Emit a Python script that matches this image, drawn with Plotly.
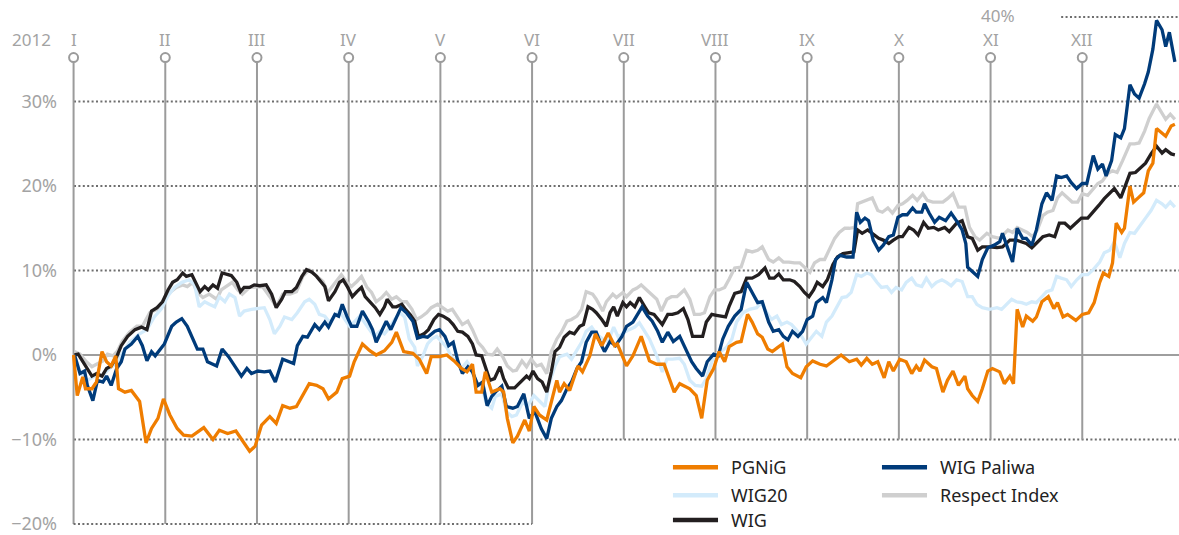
import plotly.graph_objects as go

# ---- data: x in months since 1 Jan 2012 (0 = I, 11 = XII, 12 = year end), y in % change ----
MONTHS = ["I", "II", "III", "IV", "V", "VI", "VII", "VIII", "IX", "X", "XI", "XII"]
YEAR = "2012"
Y_TICKS = [-20, -10, 0, 10, 20, 30]
Y_TICKTEXT = ["\u221220%", "\u221210%", "0%", "10%", "20%", "30%"]

PGNIG = [(0.00,0),(0.04,-4.8),(0.10,-2.6),(0.13,-4.0),(0.20,-4.0),(0.25,-3.2),(0.31,0.4),(0.36,-0.8),(0.41,-1.3),(0.46,-0.1),(0.49,-4.0),(0.56,-4.4),(0.63,-4.2),(0.72,-5.5),(0.79,-10.4),(0.85,-8.7),(0.92,-7.5),(0.98,-5.2),(1.05,-7.1),(1.13,-8.7),(1.20,-9.5),(1.29,-9.6),(1.42,-8.6),(1.52,-10.0),(1.59,-8.9),(1.68,-9.3),(1.77,-9.0),(1.85,-10.2),(1.92,-11.4),(1.98,-10.8),(2.05,-8.3),(2.14,-7.3),(2.21,-8.1),(2.28,-6.0),(2.36,-6.3),(2.43,-6.1),(2.50,-4.8),(2.57,-3.4),(2.65,-3.6),(2.72,-4.0),(2.78,-5.2),(2.87,-4.4),(2.93,-2.8),(3.01,-2.5),(3.06,-0.8),(3.15,1.3),(3.23,0.5),(3.30,0.0),(3.39,0.5),(3.47,1.5),(3.52,2.7),(3.60,0.4),(3.70,0.2),(3.77,-0.5),(3.85,-2.2),(3.90,-0.2),(3.99,-0.2),(4.07,0.0),(4.15,-0.7),(4.23,-1.6),(4.29,-2.0),(4.35,-1.1),(4.39,-4.4),(4.45,-4.4),(4.49,-2.0),(4.56,-4.4),(4.65,-4.0),(4.69,-4.4),(4.73,-7.5),(4.79,-10.4),(4.84,-9.6),(4.92,-7.7),(4.97,-9.0),(5.02,-6.1),(5.08,-7.1),(5.16,-7.7),(5.27,-3.0),(5.30,-4.4),(5.35,-3.4),(5.41,-4.2),(5.50,-1.3),(5.55,-2.0),(5.63,-0.1),(5.69,2.5),(5.76,1.1),(5.83,2.6),(5.90,1.1),(5.93,1.3),(6.03,-1.3),(6.10,-0.1),(6.19,2.2),(6.28,-0.7),(6.36,-1.1),(6.44,-1.1),(6.55,-4.4),(6.61,-3.4),(6.72,-4.0),(6.79,-4.8),(6.85,-7.5),(6.91,-3.0),(6.98,-1.6),(7.04,0.4),(7.10,-0.8),(7.15,1.0),(7.23,1.5),(7.28,1.6),(7.35,4.8),(7.40,3.9),(7.46,2.5),(7.51,2.1),(7.57,0.7),(7.62,0.4),(7.68,0.9),(7.73,1.3),(7.78,-1.4),(7.84,-2.2),(7.93,-2.7),(7.99,-1.4),(8.06,-0.7),(8.14,-1.1),(8.21,-1.3),(8.28,-0.7),(8.37,0.0),(8.46,-0.8),(8.54,-0.5),(8.59,-1.2),(8.65,-0.4),(8.71,-1.1),(8.77,-0.8),(8.84,-2.7),(8.89,-0.8),(8.94,-1.9),(9.01,-0.5),(9.08,-0.8),(9.14,-2.2),(9.19,-1.3),(9.23,-1.9),(9.28,-0.6),(9.36,-1.4),(9.41,-1.6),(9.48,-4.4),(9.53,-3.0),(9.59,-1.9),(9.65,-3.6),(9.72,-2.5),(9.75,-4.0),(9.80,-4.8),(9.86,-5.5),(9.91,-4.0),(9.97,-1.9),(10.02,-1.6),(10.10,-2.0),(10.15,-3.4),(10.21,-2.5),(10.25,-3.4),(10.29,5.4),(10.35,3.3),(10.39,4.6),(10.46,4.0),(10.50,4.5),(10.56,6.3),(10.63,6.9),(10.69,5.5),(10.73,6.2),(10.79,4.5),(10.84,4.8),(10.93,4.1),(11.00,4.8),(11.07,5.0),(11.13,6.2),(11.19,8.6),(11.23,9.7),(11.29,9.3),(11.33,10.9),(11.37,15.6),(11.43,14.5),(11.46,15.0),(11.52,20.0),(11.56,18.1),(11.61,18.6),(11.67,19.2),(11.72,21.8),(11.77,22.7),(11.81,26.8),(11.87,26.3),(11.91,25.9),(11.97,27.1),(12.01,27.3)]

WIG_PALIWA = [(0.01,0),(0.07,-2.2),(0.12,-1.9),(0.15,-3.6),(0.21,-5.4),(0.26,-3.0),(0.32,-3.2),(0.36,-2.5),(0.41,-3.6),(0.47,-1.6),(0.52,-0.8),(0.56,0.7),(0.63,1.3),(0.70,2.2),(0.75,1.1),(0.80,-0.7),(0.85,0.4),(0.89,-0.1),(0.99,1.3),(1.07,3.4),(1.12,3.9),(1.18,4.3),(1.24,3.4),(1.30,1.9),(1.35,0.7),(1.41,0.7),(1.46,-0.8),(1.56,-1.3),(1.62,0.7),(1.69,-0.2),(1.76,-1.3),(1.83,-2.5),(1.89,-1.6),(1.94,-2.2),(2.01,-1.9),(2.08,-2.0),(2.14,-1.9),(2.20,-3.2),(2.28,-0.5),(2.36,-0.8),(2.40,-1.0),(2.44,1.1),(2.50,2.2),(2.55,2.1),(2.63,3.6),(2.68,3.0),(2.74,3.9),(2.78,3.3),(2.85,4.8),(2.89,4.6),(2.93,6.0),(2.98,4.6),(3.03,3.4),(3.09,3.4),(3.15,5.2),(3.22,3.9),(3.26,3.0),(3.30,1.5),(3.37,3.0),(3.41,4.0),(3.46,3.0),(3.50,4.0),(3.57,5.6),(3.63,5.0),(3.70,4.0),(3.75,2.0),(3.81,2.2),(3.86,2.1),(3.94,2.8),(3.99,3.0),(4.05,2.2),(4.09,1.1),(4.14,1.5),(4.19,-0.7),(4.24,-2.2),(4.30,-1.4),(4.35,-2.0),(4.41,-3.6),(4.46,-3.2),(4.51,-6.0),(4.56,-4.9),(4.60,-4.4),(4.67,-3.7),(4.72,-6.1),(4.79,-6.3),(4.84,-6.1),(4.91,-4.6),(4.97,-7.5),(5.03,-6.7),(5.10,-8.7),(5.16,-9.9),(5.21,-7.5),(5.27,-6.1),(5.32,-5.4),(5.38,-4.0),(5.43,-3.2),(5.49,-1.6),(5.54,-0.8),(5.59,1.5),(5.65,2.7),(5.70,2.7),(5.75,1.3),(5.79,0.4),(5.85,1.6),(5.91,1.1),(5.98,2.2),(6.03,3.4),(6.10,3.9),(6.15,4.8),(6.20,5.7),(6.26,4.6),(6.31,4.0),(6.37,2.8),(6.42,1.5),(6.48,2.7),(6.54,1.6),(6.61,2.2),(6.66,1.1),(6.74,-0.8),(6.79,-1.6),(6.86,-2.5),(6.91,-0.8),(6.98,0.1),(7.03,-0.1),(7.08,1.9),(7.14,3.4),(7.21,4.6),(7.28,5.4),(7.34,8.6),(7.40,7.4),(7.46,6.2),(7.51,6.3),(7.58,3.9),(7.63,2.8),(7.69,3.0),(7.74,2.2),(7.79,1.8),(7.84,2.8),(7.90,2.2),(7.95,2.8),(8.00,4.2),(8.06,4.6),(8.10,6.2),(8.17,6.8),(8.21,6.2),(8.27,8.9),(8.31,11.3),(8.36,11.8),(8.43,11.6),(8.50,11.6),(8.54,16.9),(8.58,15.7),(8.63,16.2),(8.67,15.9),(8.72,13.6),(8.78,12.4),(8.83,13.0),(8.89,14.0),(8.94,14.2),(8.99,16.3),(9.04,16.6),(9.09,16.6),(9.15,17.4),(9.19,16.9),(9.25,16.9),(9.28,17.9),(9.33,16.8),(9.39,15.7),(9.44,16.3),(9.51,15.9),(9.57,16.8),(9.64,15.7),(9.69,14.8),(9.73,13.2),(9.75,10.4),(9.81,9.8),(9.86,9.3),(9.91,11.3),(9.97,12.7),(10.04,13.0),(10.10,13.4),(10.13,14.4),(10.17,13.2),(10.24,11.0),(10.29,15.0),(10.35,13.8),(10.39,13.8),(10.45,13.0),(10.50,14.8),(10.56,17.9),(10.61,19.2),(10.67,18.3),(10.72,21.2),(10.77,21.0),(10.83,21.2),(10.88,20.4),(10.94,19.7),(11.00,20.3),(11.05,20.3),(11.08,21.8),(11.12,23.6),(11.17,22.0),(11.22,22.6),(11.26,21.2),(11.32,23.0),(11.36,26.1),(11.42,25.7),(11.46,26.8),(11.52,32.0),(11.57,30.9),(11.62,30.4),(11.68,32.1),(11.72,33.5),(11.77,36.2),(11.81,39.6),(11.87,38.5),(11.91,36.5),(11.95,38.2),(12.01,34.7)]

WIG = [(0.01,0),(0.05,0.1),(0.12,-1.1),(0.20,-2.5),(0.25,-2.2),(0.31,-2.5),(0.36,-1.6),(0.41,-1.3),(0.47,-0.2),(0.52,1.1),(0.59,2.2),(0.67,3.0),(0.74,3.3),(0.80,3.0),(0.85,5.2),(0.91,5.6),(0.97,6.3),(1.03,7.7),(1.08,8.6),(1.13,8.9),(1.19,9.7),(1.23,9.3),(1.29,9.5),(1.33,8.7),(1.38,7.5),(1.43,8.1),(1.47,7.7),(1.52,8.3),(1.57,7.9),(1.62,9.7),(1.67,9.5),(1.72,9.4),(1.78,8.6),(1.82,7.5),(1.86,8.0),(1.92,8.0),(1.97,8.3),(2.03,8.2),(2.10,8.3),(2.16,7.2),(2.21,5.6),(2.27,6.6),(2.31,7.5),(2.38,7.5),(2.43,8.0),(2.49,9.3),(2.54,10.1),(2.60,9.8),(2.65,9.3),(2.70,8.6),(2.74,8.1),(2.78,6.4),(2.85,7.5),(2.90,8.6),(2.94,8.9),(2.99,8.0),(3.04,6.9),(3.09,7.5),(3.14,8.0),(3.18,6.9),(3.25,6.0),(3.29,5.6),(3.34,4.8),(3.39,5.7),(3.42,6.6),(3.48,5.7),(3.52,5.7),(3.58,6.0),(3.62,5.4),(3.67,4.8),(3.72,4.0),(3.76,2.2),(3.82,2.5),(3.87,3.0),(3.93,4.2),(3.98,4.8),(4.03,4.6),(4.09,4.2),(4.14,3.6),(4.19,2.8),(4.24,2.7),(4.30,2.2),(4.35,1.3),(4.39,0.0),(4.45,-0.1),(4.49,-1.4),(4.54,-3.0),(4.59,-2.8),(4.65,-1.4),(4.69,-2.8),(4.74,-3.9),(4.81,-3.9),(4.89,-3.0),(4.94,-2.5),(4.97,-2.8),(5.01,-1.9),(5.06,-2.8),(5.11,-3.2),(5.16,-4.4),(5.21,-2.0),(5.25,0.4),(5.30,0.9),(5.35,2.1),(5.41,2.7),(5.46,2.5),(5.52,3.4),(5.56,3.6),(5.61,5.7),(5.66,5.4),(5.70,5.0),(5.76,4.2),(5.81,3.4),(5.85,5.0),(5.89,5.7),(5.93,4.6),(5.99,6.2),(6.03,5.7),(6.07,6.2),(6.12,5.7),(6.17,6.8),(6.23,5.7),(6.27,5.0),(6.33,4.8),(6.38,4.2),(6.42,3.6),(6.48,4.8),(6.53,4.8),(6.59,5.0),(6.65,5.5),(6.70,4.2),(6.75,2.2),(6.80,2.2),(6.86,2.2),(6.90,3.9),(6.96,4.8),(7.01,4.7),(7.07,4.6),(7.11,4.5),(7.15,5.8),(7.21,7.3),(7.28,7.5),(7.34,9.1),(7.40,9.1),(7.47,9.5),(7.54,10.3),(7.59,9.1),(7.64,9.1),(7.69,9.6),(7.74,8.9),(7.81,8.9),(7.86,8.7),(7.92,8.1),(7.97,7.4),(8.02,6.9),(8.07,7.7),(8.11,8.6),(8.17,8.1),(8.22,8.9),(8.28,10.7),(8.33,11.6),(8.39,12.0),(8.44,12.1),(8.51,12.2),(8.55,14.8),(8.60,14.4),(8.66,14.8),(8.71,14.4),(8.78,13.8),(8.83,13.6),(8.89,13.2),(8.94,13.6),(9.00,14.0),(9.04,14.0),(9.11,15.1),(9.16,14.8),(9.21,14.2),(9.27,15.7),(9.32,15.0),(9.38,15.1),(9.43,14.8),(9.50,15.1),(9.55,14.6),(9.63,15.6),(9.69,15.9),(9.75,14.0),(9.80,13.8),(9.86,12.4),(9.91,12.8),(9.99,12.8),(10.07,12.7),(10.13,12.8),(10.21,13.6),(10.28,13.6),(10.34,13.4),(10.39,13.2),(10.45,12.7),(10.50,13.2),(10.57,14.0),(10.64,14.2),(10.70,14.0),(10.75,15.6),(10.81,15.6),(10.87,15.0),(10.93,15.6),(10.99,16.2),(11.06,16.2),(11.11,16.8),(11.18,17.7),(11.24,18.5),(11.30,19.1),(11.35,19.7),(11.42,18.6),(11.46,19.8),(11.52,21.5),(11.58,21.6),(11.64,22.2),(11.69,22.7),(11.75,23.8),(11.81,24.7),(11.87,23.9),(11.91,24.3),(11.97,23.8),(12.01,23.7)]

WIG20 = [(0.01,0),(0.07,-2.0),(0.15,-3.0),(0.23,-2.5),(0.31,-2.5),(0.39,-1.6),(0.47,-1.0),(0.52,0.0),(0.61,1.5),(0.72,2.5),(0.80,3.0),(0.88,4.5),(0.96,5.5),(1.03,7.0),(1.10,8.0),(1.18,8.6),(1.26,8.9),(1.32,8.3),(1.37,5.7),(1.43,6.3),(1.48,6.0),(1.54,5.7),(1.59,6.9),(1.65,6.3),(1.70,7.2),(1.76,6.8),(1.81,4.6),(1.86,5.2),(1.94,5.4),(2.01,5.5),(2.08,5.6),(2.14,4.2),(2.19,2.5),(2.25,3.4),(2.30,4.5),(2.38,4.2),(2.44,5.0),(2.52,6.3),(2.57,6.6),(2.63,6.0),(2.68,4.8),(2.74,4.6),(2.79,3.9),(2.85,4.6),(2.90,5.2),(2.96,4.2),(3.01,3.4),(3.06,3.9),(3.12,4.6),(3.17,3.9),(3.23,3.0),(3.28,2.2),(3.34,2.8),(3.39,2.5),(3.45,3.3),(3.50,4.2),(3.56,5.0),(3.61,4.5),(3.66,1.9),(3.72,0.9),(3.75,-1.3),(3.81,-0.1),(3.86,1.3),(3.91,1.9),(3.96,2.2),(4.01,1.6),(4.07,0.9),(4.12,-0.2),(4.18,-0.8),(4.23,-1.6),(4.29,-0.8),(4.34,-1.6),(4.39,-3.6),(4.45,-3.6),(4.50,-5.7),(4.56,-6.3),(4.60,-4.9),(4.67,-4.6),(4.72,-6.7),(4.78,-7.3),(4.83,-7.1),(4.90,-5.5),(4.95,-6.1),(5.02,-4.8),(5.08,-5.5),(5.14,-6.1),(5.18,-3.6),(5.25,-1.3),(5.30,-0.2),(5.38,0.1),(5.43,-0.5),(5.49,0.5),(5.54,1.5),(5.59,2.8),(5.65,3.3),(5.70,2.5),(5.77,1.9),(5.83,1.6),(5.89,3.3),(5.94,2.1),(6.01,2.7),(6.06,3.0),(6.12,3.3),(6.17,3.8),(6.23,2.8),(6.28,1.9),(6.36,-0.1),(6.42,-2.0),(6.47,-0.5),(6.53,-0.5),(6.61,-0.4),(6.66,-1.1),(6.72,-3.0),(6.78,-3.6),(6.85,-3.7),(6.90,-2.8),(6.96,-0.8),(7.01,0.1),(7.07,0.5),(7.12,0.9),(7.18,1.9),(7.23,3.9),(7.30,5.0),(7.37,5.4),(7.45,5.6),(7.50,6.2),(7.56,5.0),(7.61,4.2),(7.67,4.6),(7.72,3.6),(7.78,3.9),(7.83,3.6),(7.88,3.0),(7.94,2.2),(7.99,1.3),(8.05,2.2),(8.10,2.8),(8.16,2.2),(8.21,3.9),(8.27,4.6),(8.32,5.7),(8.38,6.8),(8.43,6.9),(8.48,7.4),(8.54,9.5),(8.59,9.3),(8.65,9.7),(8.70,9.5),(8.76,8.6),(8.81,8.0),(8.87,8.1),(8.92,7.4),(8.97,8.0),(9.03,7.7),(9.08,8.6),(9.14,9.1),(9.19,8.3),(9.25,8.1),(9.30,9.1),(9.36,8.1),(9.41,8.6),(9.47,8.9),(9.52,8.6),(9.57,8.2),(9.63,8.9),(9.69,8.7),(9.75,6.9),(9.80,6.9),(9.85,6.0),(9.91,5.6),(9.99,5.4),(10.07,5.6),(10.12,5.4),(10.17,6.0),(10.23,6.6),(10.28,6.3),(10.34,6.2),(10.39,6.0),(10.45,6.3),(10.50,6.2),(10.56,6.9),(10.61,7.5),(10.67,7.7),(10.72,9.3),(10.77,9.1),(10.83,8.9),(10.88,8.1),(10.94,8.9),(11.00,9.5),(11.06,9.5),(11.12,10.1),(11.19,11.0),(11.24,12.1),(11.30,12.4),(11.35,13.4),(11.41,11.5),(11.46,13.2),(11.52,14.5),(11.57,14.4),(11.62,15.1),(11.69,16.2),(11.75,17.1),(11.81,18.3),(11.87,17.9),(11.91,17.5),(11.96,18.1),(12.01,17.5)]

RESPECT_INDEX = [(0.01,0.4),(0.07,0.1),(0.14,-0.8),(0.20,-1.4),(0.25,-1.1),(0.32,-0.7),(0.37,0.1),(0.43,-0.1),(0.48,0.5),(0.53,1.6),(0.61,2.7),(0.69,3.4),(0.75,3.4),(0.83,5.0),(0.91,5.4),(0.97,6.2),(1.05,7.4),(1.12,8.0),(1.19,8.3),(1.24,8.1),(1.30,8.6),(1.35,7.4),(1.41,6.8),(1.48,7.2),(1.56,6.6),(1.61,7.7),(1.67,8.1),(1.73,8.6),(1.79,7.7),(1.84,7.2),(1.92,8.0),(2.00,8.1),(2.06,8.1),(2.14,6.9),(2.21,5.7),(2.28,7.2),(2.36,7.2),(2.43,7.5),(2.50,9.3),(2.57,10.1),(2.65,9.3),(2.72,8.7),(2.77,7.4),(2.85,8.6),(2.92,9.5),(2.98,8.6),(3.03,8.1),(3.09,8.7),(3.14,9.3),(3.20,8.0),(3.25,7.4),(3.30,6.3),(3.36,6.8),(3.41,7.4),(3.47,6.6),(3.52,6.9),(3.58,6.3),(3.63,6.3),(3.69,5.4),(3.74,4.2),(3.79,4.5),(3.85,5.0),(3.90,5.6),(3.97,6.0),(4.02,5.6),(4.08,5.2),(4.13,5.4),(4.19,4.5),(4.24,3.6),(4.30,4.0),(4.35,3.0),(4.41,1.5),(4.46,0.9),(4.51,0.1),(4.57,0.0),(4.62,0.7),(4.68,-0.2),(4.73,-1.3),(4.79,-1.9),(4.83,-1.8),(4.89,-0.7),(4.94,-1.4),(4.99,-0.5),(5.05,-1.3),(5.10,-1.1),(5.16,-2.2),(5.21,0.4),(5.27,1.9),(5.32,2.7),(5.38,4.0),(5.43,4.2),(5.49,4.6),(5.54,5.4),(5.59,7.5),(5.66,7.2),(5.70,6.6),(5.77,5.2),(5.81,6.3),(5.88,7.2),(5.92,6.8),(5.99,7.4),(6.03,6.9),(6.10,7.7),(6.14,7.9),(6.19,8.3),(6.25,7.7),(6.30,7.2),(6.36,6.6),(6.41,5.2),(6.47,6.6),(6.52,6.9),(6.58,6.9),(6.63,7.4),(6.66,7.7),(6.72,6.6),(6.77,4.8),(6.83,4.8),(6.88,5.0),(6.94,6.9),(6.99,7.7),(7.04,7.7),(7.10,8.0),(7.15,9.0),(7.21,10.3),(7.28,10.4),(7.34,12.4),(7.40,12.2),(7.46,12.4),(7.51,12.8),(7.58,11.3),(7.63,11.0),(7.69,11.5),(7.74,11.0),(7.80,11.0),(7.86,10.9),(7.92,10.9),(7.97,10.4),(8.03,9.8),(8.08,10.9),(8.14,11.3),(8.19,11.3),(8.24,12.4),(8.30,13.8),(8.35,14.5),(8.41,15.0),(8.46,15.0),(8.52,15.1),(8.55,17.9),(8.60,18.1),(8.66,18.3),(8.71,18.6),(8.77,17.1),(8.82,16.9),(8.88,17.4),(8.93,16.8),(8.99,17.7),(9.04,17.9),(9.09,18.3),(9.15,18.9),(9.20,18.3),(9.26,19.1),(9.31,18.3),(9.37,18.1),(9.42,18.1),(9.48,18.1),(9.53,18.5),(9.59,19.1),(9.65,17.5),(9.72,17.5),(9.77,15.1),(9.83,14.0),(9.88,13.6),(9.96,14.4),(10.02,14.0),(10.10,13.8),(10.19,14.8),(10.24,14.5),(10.29,15.1),(10.35,14.8),(10.40,14.5),(10.46,14.0),(10.51,14.8),(10.57,16.5),(10.62,16.9),(10.68,17.1),(10.73,18.6),(10.78,19.2),(10.84,18.6),(10.89,18.1),(10.95,18.1),(11.00,19.1),(11.06,18.9),(11.11,19.5),(11.17,20.3),(11.22,20.6),(11.28,21.5),(11.33,21.8),(11.38,21.6),(11.44,23.0),(11.52,25.0),(11.57,25.0),(11.62,25.1),(11.68,26.5),(11.73,28.0),(11.81,29.7),(11.87,28.6),(11.91,27.9),(11.96,28.5),(12.01,27.9)]

# ---- styles ----
FONT = "Noto Sans"
GREY_TXT = "#a3a3a3"
SERIES = [  # drawing order (bottom -> top)
    ("Respect Index", RESPECT_INDEX, "#cfcfcf"),
    ("WIG20", WIG20, "#d3ebfb"),
    ("WIG", WIG, "#231f20"),
    ("WIG Paliwa", WIG_PALIWA, "#003b7a"),
    ("PGNiG", PGNIG, "#ef7d00"),
]

fig = go.Figure()
for name, pts, col in SERIES:
    xs = [p[0] for p in pts]
    ys = [p[1] for p in pts]
    fig.add_trace(go.Scatter(x=xs, y=ys, mode="lines", name=name,
                             line=dict(color=col, width=3.3), showlegend=False,
                             hoverinfo="skip"))

# month markers (circles at top of month lines)
MARK_Y = 35.2
fig.add_trace(go.Scatter(x=list(range(len(MONTHS))), y=[MARK_Y] * len(MONTHS), mode="markers",
                         marker=dict(symbol="circle", size=9, color="white",
                                     line=dict(color="#9b9b9b", width=2)),
                         showlegend=False, hoverinfo="skip", cliponaxis=False))

shapes = []
DOT = dict(color="#6e6e6e", width=2, dash="2px,2.4px")
# month vertical lines
for i, _ in enumerate(MONTHS):
    bottom = -20 if i <= 5 else -10
    shapes.append(dict(type="line", xref="x", yref="y", x0=i, x1=i, y0=bottom, y1=MARK_Y,
                       line=dict(color="#9b9b9b", width=2), layer="below"))
# dotted grid
for v in [10, 20, 30, -10]:
    shapes.append(dict(type="line", xref="paper", yref="y", x0=0.0045, x1=1, y0=v, y1=v,
                       line=DOT, layer="below"))
shapes.append(dict(type="line", xref="x", yref="y", x0=0, x1=5, y0=-20, y1=-20, line=DOT, layer="below"))
shapes.append(dict(type="line", xref="x", yref="y", x0=10.77, x1=12.06, y0=40, y1=40, line=DOT, layer="below"))
# zero line
shapes.append(dict(type="line", xref="paper", yref="y", x0=0.0045, x1=1, y0=0, y1=0,
                   line=dict(color="#9e9e9e", width=2), layer="below"))

annotations = []
for i, m in enumerate(MONTHS):
    annotations.append(dict(x=i, y=37.4, xref="x", yref="y", text=m, showarrow=False, borderpad=0,
                            font=dict(family=FONT, size=17, color=GREY_TXT), xanchor="center", yanchor="middle"))
annotations.append(dict(x=-0.0153, y=37.4, xref="paper", yref="y", text=YEAR, showarrow=False, borderpad=0,
                        font=dict(family=FONT, size=17, color=GREY_TXT), xanchor="right", yanchor="middle"))
annotations.append(dict(x=10.28, y=40.2, xref="x", yref="y", text="40%", showarrow=False, borderpad=0,
                        font=dict(family=FONT, size=17, color=GREY_TXT), xanchor="right", yanchor="middle"))

# custom legend (two columns, row-major like the original)
LEG = [("PGNiG", "#ef7d00", 0, 0), ("WIG Paliwa", "#003b7a", 1, 0),
       ("WIG20", "#d3ebfb", 0, 1), ("Respect Index", "#cfcfcf", 1, 1),
       ("WIG", "#231f20", 0, 2)]
col_x = [(0.5441, 0.5847, 0.5946), (0.7324, 0.7730, 0.7829)]
row_y = [0.1192, 0.0654, 0.0173]
for name, col, c, r in LEG:
    x0, x1, xt = col_x[c]
    shapes.append(dict(type="line", xref="paper", yref="paper", x0=x0, x1=x1, y0=row_y[r], y1=row_y[r],
                       line=dict(color=col, width=4.5)))
    annotations.append(dict(x=xt, y=row_y[r], xref="paper", yref="paper", text=name, showarrow=False,
                            font=dict(family=FONT, size=18, color="#222222"), xanchor="left", yanchor="middle"))

fig.update_layout(
    width=1179, height=535,
    margin=dict(l=69, r=0, t=12, b=3),
    paper_bgcolor="white", plot_bgcolor="white",
    showlegend=False,
    shapes=shapes, annotations=annotations,
    font=dict(family=FONT),
    xaxis=dict(range=[-0.05, 12.055], showgrid=False, zeroline=False, showticklabels=False,
               showline=False, ticks=""),
    yaxis=dict(range=[-20.6, 40.6], showgrid=False, zeroline=False, showline=False,
               tickvals=Y_TICKS, ticktext=Y_TICKTEXT, ticks="", ticklabelstandoff=11,
               ticklabeloverflow="allow",
               tickfont=dict(family=FONT, size=18, color=GREY_TXT)),
)

fig.write_html("out.html",
               config={"displayModeBar": False, "staticPlot": True},
               post_script="document.body.style.margin='0';document.body.style.padding='0';"
                           "document.body.style.overflow='hidden';")
